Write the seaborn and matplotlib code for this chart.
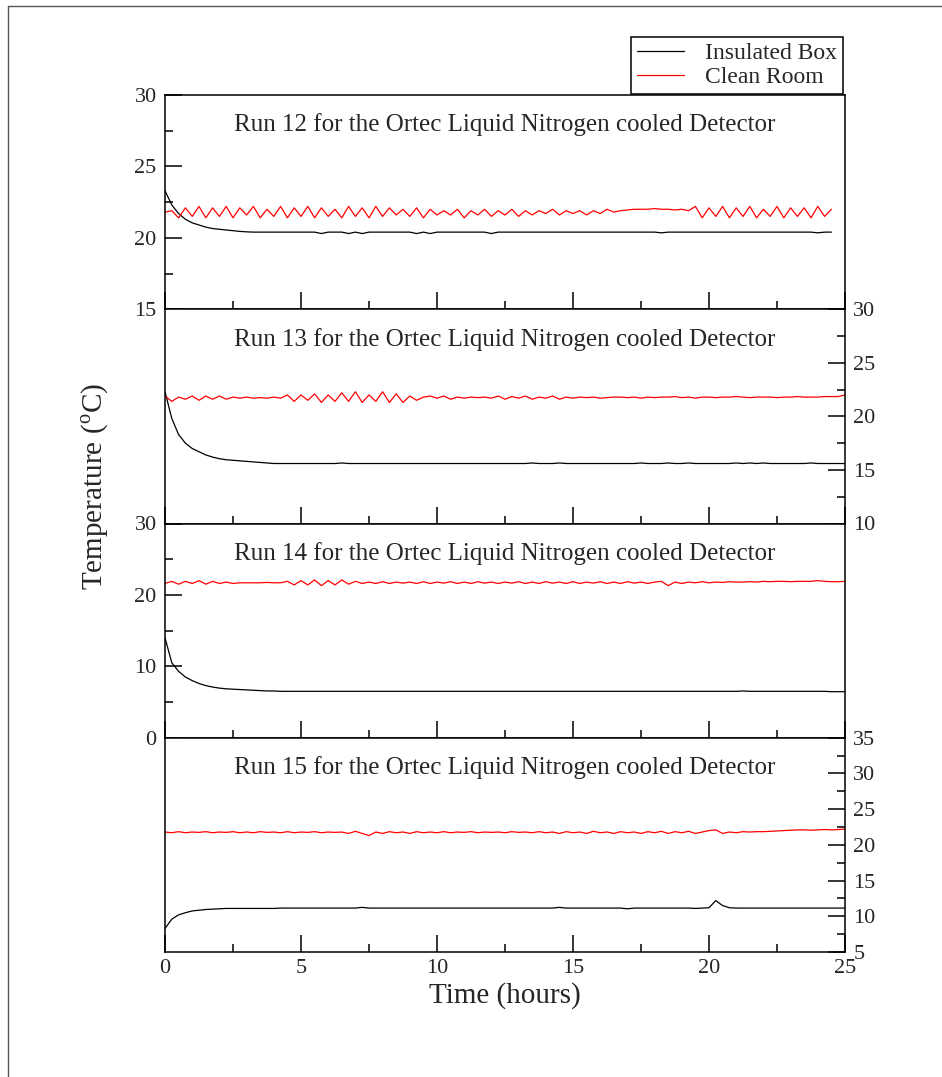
import numpy as np
import pandas as pd
import matplotlib
matplotlib.use("Agg")
import matplotlib.pyplot as plt
from matplotlib.lines import Line2D
from matplotlib.ticker import MultipleLocator
import seaborn as sns

# ---------------------------------------------------------------- data
# Temperatures logged every 15 minutes (hours since start of each run)
time_run12 = np.arange(0, 24.5 + 0.001, 0.25)
time_long = np.arange(0, 25.0 + 0.001, 0.25)

run12_box = [
    23.3, 22.3, 21.7, 21.3, 21.05, 20.9, 20.75, 20.65, 20.6, 20.55,
    20.5, 20.45, 20.42, 20.4, 20.4, 20.4, 20.4, 20.4, 20.4, 20.4,
    20.4, 20.4, 20.4, 20.3, 20.4, 20.4, 20.4, 20.3, 20.4, 20.3,
    20.4, 20.4, 20.4, 20.4, 20.4, 20.4, 20.4, 20.3, 20.4, 20.3,
    20.4, 20.4, 20.4, 20.4, 20.4, 20.4, 20.4, 20.4, 20.3, 20.4,
    20.4, 20.4, 20.4, 20.4, 20.4, 20.4, 20.4, 20.4, 20.4, 20.4,
    20.4, 20.4, 20.4, 20.4, 20.4, 20.4, 20.4, 20.4, 20.4, 20.4,
    20.4, 20.4, 20.4, 20.35, 20.4, 20.4, 20.4, 20.4, 20.4, 20.4,
    20.4, 20.4, 20.4, 20.4, 20.4, 20.4, 20.4, 20.4, 20.4, 20.4,
    20.4, 20.4, 20.4, 20.4, 20.4, 20.4, 20.35, 20.4, 20.4,
]
run12_room = [
    21.8, 21.9, 21.4, 22.1, 21.5, 22.2, 21.4, 22.1, 21.5, 22.2,
    21.4, 22.1, 21.6, 22.2, 21.4, 22.0, 21.5, 22.2, 21.4, 22.1,
    21.5, 22.2, 21.4, 22.1, 21.5, 22.0, 21.4, 22.2, 21.5, 22.1,
    21.4, 22.2, 21.5, 22.1, 21.6, 22.0, 21.5, 22.1, 21.4, 22.0,
    21.6, 21.9, 21.6, 22.0, 21.4, 21.9, 21.6, 22.0, 21.5, 21.9,
    21.6, 22.0, 21.5, 21.9, 21.6, 21.9, 21.7, 22.0, 21.6, 21.9,
    21.7, 21.9, 21.6, 21.9, 21.7, 22.0, 21.8, 21.9,
    21.95, 22.0, 22.0, 22.0, 22.05, 22.0, 22.0, 21.95, 22.0, 21.9,
    22.2, 21.4, 22.1, 21.5, 22.2, 21.4, 22.1, 21.5, 22.2, 21.4,
    22.0, 21.5, 22.2, 21.4, 22.1, 21.5, 22.1, 21.4, 22.2, 21.5, 22.0,
]

run13_box = [
    22.3, 19.8, 18.3, 17.5, 17.0, 16.7, 16.4, 16.2, 16.05, 15.95,
    15.9, 15.85, 15.8, 15.75, 15.7, 15.65, 15.6, 15.6, 15.6, 15.6,
    15.6, 15.6, 15.6, 15.6, 15.6, 15.6, 15.65, 15.6, 15.6, 15.6,
    15.6, 15.6, 15.6, 15.6, 15.6, 15.6, 15.6, 15.6, 15.6, 15.6,
    15.6, 15.6, 15.6, 15.6, 15.6, 15.6, 15.6, 15.6, 15.6, 15.6,
    15.6, 15.6, 15.6, 15.6, 15.65, 15.6, 15.6, 15.6, 15.65, 15.6,
    15.6, 15.6, 15.6, 15.6, 15.6, 15.6, 15.6, 15.6, 15.6, 15.6,
    15.65, 15.6, 15.6, 15.6, 15.65, 15.6, 15.6, 15.65, 15.6, 15.6,
    15.6, 15.6, 15.6, 15.6, 15.65, 15.6, 15.65, 15.6, 15.65, 15.6,
    15.6, 15.6, 15.6, 15.6, 15.6, 15.65, 15.6, 15.6, 15.6, 15.6,
    15.6,
]
run13_room = [
    21.9, 21.4, 21.8, 21.6, 21.9, 21.5, 21.9, 21.6, 21.9, 21.6,
    21.8, 21.7, 21.8, 21.7, 21.75, 21.7, 21.8, 21.7,
    22.0, 21.4, 22.0, 21.5, 22.1, 21.3, 22.0, 21.4, 22.2, 21.4,
    22.3, 21.3, 22.0, 21.4, 22.3, 21.3, 22.1, 21.3, 21.9, 21.5,
    21.8, 21.9, 21.7, 21.9, 21.6, 21.8, 21.7, 21.8, 21.75, 21.8,
    21.7, 21.9, 21.6, 21.85, 21.7, 21.9, 21.6, 21.8, 21.7, 21.9,
    21.6, 21.8, 21.7, 21.8, 21.75, 21.8, 21.7,
    21.75, 21.8, 21.8, 21.75, 21.8, 21.7, 21.8, 21.75, 21.8, 21.8,
    21.85, 21.75, 21.8, 21.7, 21.8, 21.8, 21.75, 21.8, 21.8, 21.85,
    21.8, 21.75, 21.8, 21.8, 21.8, 21.75, 21.8, 21.8, 21.85, 21.8,
    21.8, 21.8, 21.85, 21.85, 21.85, 22.0,
]

run14_box = [
    14.0, 10.5, 9.3, 8.5, 8.0, 7.6, 7.3, 7.1, 6.95, 6.85,
    6.8, 6.75, 6.7, 6.65, 6.6, 6.55, 6.55, 6.5, 6.5, 6.5,
    6.5, 6.5, 6.5, 6.5, 6.5, 6.5, 6.5, 6.5, 6.5, 6.5,
    6.5, 6.5, 6.5, 6.5, 6.5, 6.5, 6.5, 6.5, 6.5, 6.5,
    6.5, 6.5, 6.5, 6.5, 6.5, 6.5, 6.5, 6.5, 6.5, 6.5,
    6.5, 6.5, 6.5, 6.5, 6.5, 6.5, 6.5, 6.5, 6.5, 6.5,
    6.5, 6.5, 6.5, 6.5, 6.5, 6.5, 6.5, 6.5, 6.5, 6.5,
    6.5, 6.5, 6.5, 6.5, 6.5, 6.5, 6.5, 6.5, 6.5, 6.5,
    6.5, 6.5, 6.5, 6.5, 6.5, 6.55, 6.5, 6.5, 6.5, 6.5,
    6.5, 6.5, 6.5, 6.5, 6.5, 6.5, 6.5, 6.5, 6.45, 6.45,
    6.45,
]
run14_room = [
    21.6, 21.9, 21.5, 21.9, 21.6, 22.0, 21.5, 21.9, 21.6, 21.8,
    21.6, 21.7, 21.7,
    21.7, 21.7, 21.75, 21.7, 21.7,
    21.9, 21.4, 22.0, 21.4, 22.1, 21.3, 22.0, 21.4, 22.1, 21.5,
    21.9, 21.6,
    21.8, 21.6, 21.85, 21.6, 21.8, 21.65, 21.8, 21.6, 21.85, 21.6,
    21.8, 21.65, 21.85, 21.6, 21.8, 21.6, 21.85, 21.65, 21.8, 21.6,
    21.8, 21.65, 21.85, 21.6, 21.8, 21.6, 21.85, 21.65, 21.8, 21.6,
    21.85, 21.6, 21.8, 21.65, 21.85, 21.6, 21.8, 21.6, 21.85, 21.65,
    21.8, 21.6, 21.8,
    21.9, 21.3, 21.8, 21.6,
    21.8, 21.7, 21.85, 21.7, 21.8, 21.75, 21.85, 21.8, 21.8, 21.85,
    21.8, 21.9, 21.85, 21.9, 21.9, 21.85, 21.9, 21.9, 21.9, 22.0,
    21.9, 21.85, 21.85, 21.9,
]

run15_box = [
    8.3, 9.6, 10.2, 10.5, 10.75, 10.85, 10.95, 11.0, 11.05, 11.1,
    11.1, 11.1, 11.1, 11.1, 11.1, 11.1, 11.1, 11.15, 11.15, 11.15,
    11.15, 11.15, 11.15, 11.15, 11.15, 11.15, 11.15, 11.15, 11.15, 11.25,
    11.15, 11.15, 11.15, 11.15, 11.15, 11.15, 11.15, 11.15, 11.15, 11.15,
    11.15, 11.15, 11.15, 11.15, 11.15, 11.15, 11.15, 11.15, 11.15, 11.15,
    11.15, 11.15, 11.15, 11.15, 11.15, 11.15, 11.15, 11.15, 11.25, 11.15,
    11.15, 11.15, 11.15, 11.15, 11.15, 11.15, 11.15, 11.15, 11.05, 11.15,
    11.15, 11.15, 11.15, 11.15, 11.15, 11.15, 11.15, 11.15, 11.1, 11.15,
    11.2, 12.2, 11.5, 11.2, 11.15, 11.15, 11.15, 11.15, 11.15, 11.15,
    11.15, 11.15, 11.15, 11.15, 11.15, 11.15, 11.15, 11.15, 11.15, 11.15,
    11.15,
]
run15_room = [
    21.8, 21.7, 21.85, 21.7, 21.8, 21.75, 21.85, 21.7, 21.8, 21.75,
    21.85, 21.7, 21.8, 21.7, 21.85, 21.75, 21.8, 21.7, 21.85, 21.7,
    21.8, 21.75, 21.85, 21.7, 21.8, 21.75, 21.8, 21.6, 21.9, 21.6,
    21.3, 21.8, 21.6, 21.85, 21.7, 21.8, 21.6, 21.85, 21.7, 21.8,
    21.7, 21.85, 21.7, 21.8, 21.75, 21.85, 21.7, 21.8, 21.75, 21.8,
    21.7, 21.85, 21.75, 21.8, 21.7, 21.85, 21.7, 21.8, 21.6, 21.85,
    21.7, 21.8, 21.6, 21.9, 21.7, 21.8, 21.6, 21.85, 21.7, 21.8,
    21.6, 21.85, 21.7, 21.9, 21.6, 21.85, 21.7, 21.9, 21.6, 21.8,
    22.0, 22.1, 21.6, 21.8, 21.7, 21.85, 21.8, 21.85, 21.85, 21.9,
    21.95, 22.0, 22.05, 22.1, 22.1, 22.05, 22.1, 22.15, 22.1, 22.15,
    22.2,
]

run_names = ["Run 12", "Run 13", "Run 14", "Run 15"]
series_names = ["Insulated Box", "Clean Room"]
run_times = [time_run12, time_long, time_long, time_long]
box_series = [run12_box, run13_box, run14_box, run15_box]
room_series = [run12_room, run13_room, run14_room, run15_room]

# y-axis settings per panel: (limits, major step, minor step, side)
y_limits = [(15, 30), (10, 30), (0, 30), (5, 35)]
y_major = [5, 5, 10, 5]
y_minor = [2.5, 2.5, 5, 2.5]
y_side = ["left", "right", "left", "right"]

# ---------------------------------------------------------------- style
sns.set_style("ticks")
plt.rcParams["font.family"] = ["Liberation Serif", "DejaVu Serif"]
plt.rcParams["mathtext.fontset"] = "custom"
plt.rcParams["mathtext.rm"] = "Liberation Serif"
plt.rcParams["axes.linewidth"] = 1.1

W, H = 942, 1077
fig = plt.figure(figsize=(W / 100, H / 100), dpi=100)
fig.patch.set_facecolor("white")

# thin frame along the top and left of the page
fig.add_artist(Line2D([8 / W, 8 / W], [0, 1 - 6 / H], transform=fig.transFigure,
                      color="#555555", lw=1.0))
fig.add_artist(Line2D([8 / W, 1], [1 - 6 / H, 1 - 6 / H], transform=fig.transFigure,
                      color="#555555", lw=1.0))

x0, x1 = 165, 845
top, bottom = 95, 952
panel_h = (bottom - top) / 4

box_color = "#000000"
room_color = "#ff0000"

axes = []
for i in range(4):
    y_top = top + i * panel_h
    ax = fig.add_axes([x0 / W, 1 - (y_top + panel_h) / H, (x1 - x0) / W, panel_h / H])
    axes.append(ax)

    df = pd.DataFrame({
        "time": np.concatenate([run_times[i], run_times[i]]),
        "temp": np.concatenate([box_series[i], room_series[i]]),
        "series": [series_names[0]] * len(box_series[i]) + [series_names[1]] * len(room_series[i]),
    })
    sns.lineplot(data=df, x="time", y="temp", hue="series",
                 palette={series_names[0]: box_color, series_names[1]: room_color},
                 estimator=None, linewidth=0.9, legend=False, ax=ax)

    ax.set_xlim(0, 25)
    ax.set_ylim(*y_limits[i])
    ax.xaxis.set_major_locator(MultipleLocator(5))
    ax.xaxis.set_minor_locator(MultipleLocator(2.5))
    ax.yaxis.set_major_locator(MultipleLocator(y_major[i]))
    ax.yaxis.set_minor_locator(MultipleLocator(y_minor[i]))
    ax.set_xlabel("")
    ax.set_ylabel("")

    for s in ax.spines.values():
        s.set_visible(True)
        s.set_color("black")

    ax.tick_params(axis="both", which="major", direction="in", length=12.5,
                   width=1.1, color="black", labelsize=16)
    ax.tick_params(axis="both", which="minor", direction="in", length=6,
                   width=1.1, color="black")
    ax.tick_params(axis="x", which="both", bottom=True, top=False,
                   labelbottom=(i == 3), pad=5)
    if y_side[i] == "left":
        ax.tick_params(axis="y", which="both", left=True, right=False,
                       labelleft=True, labelright=False, pad=6)
    else:
        ax.tick_params(axis="y", which="both", left=False, right=True,
                       labelleft=False, labelright=True, pad=6)

    ax.text(0.5, 1 - 30 / panel_h,
            f"{run_names[i]} for the Ortec Liquid Nitrogen cooled Detector",
            transform=ax.transAxes, ha="center", va="center", fontsize=18)

axes[-1].set_xlabel("Time (hours)", fontsize=21, labelpad=3)

fig.text(95 / W, 1 - 487 / H, r"Temperature ($^{\rm o}$C)", rotation=90,
         ha="center", va="center", fontsize=21)

handles = [Line2D([], [], color=box_color, lw=0.9),
           Line2D([], [], color=room_color, lw=0.9)]
leg = fig.legend(handles, series_names, loc="upper right",
                 bbox_to_anchor=(843 / W, 1 - 37 / H),
                 frameon=True, fancybox=False, framealpha=1, edgecolor="black",
                 fontsize=17, handlelength=2.0, handletextpad=0.9,
                 borderpad=0.25, labelspacing=0.1, borderaxespad=0)
leg.get_frame().set_linewidth(1.1)

fig.savefig("out.png", dpi=100, facecolor="white")
